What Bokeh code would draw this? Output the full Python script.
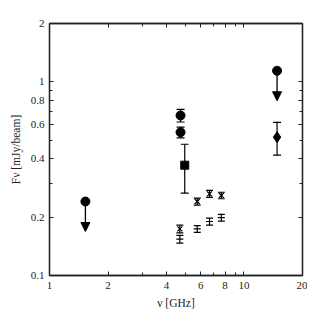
from bokeh.plotting import figure
from bokeh.models import (ColumnDataSource, Whisker, TeeHead, Arrow, NormalHead,
                          LogAxis, FixedTicker, CustomJSTickFormatter)
from bokeh.embed import file_html
from bokeh.resources import INLINE

# ---- data ----
# upper limits (circle + downward arrow)
lim_freq = [1.53, 14.8]
lim_flux = [0.241, 1.14]
lim_frac = 0.70  # arrow end as fraction of the limit

# filled circles with error bars
circ_freq = [4.72, 4.72]
circ_flux = [0.670, 0.549]
circ_err = [0.05, 0.035]

# square
sq_freq = [4.96]
sq_flux = [0.371]
sq_err = [0.105]

# diamond
dia_freq = [14.8]
dia_flux = [0.518]
dia_err = [0.10]

# x-marker series
xs_freq = [4.68, 5.75, 6.65, 7.65]
xs_flux = [0.174, 0.241, 0.264, 0.259]
xs_err = [0.008, 0.010, 0.011, 0.010]

# dash-marker series
ds_freq = [4.68, 5.75, 6.65, 7.65]
ds_flux = [0.154, 0.174, 0.190, 0.199]
ds_err = [0.007, 0.007, 0.008, 0.008]

x_major = [1, 2, 4, 6, 8, 10, 20]
x_minor = [3, 5, 7, 9]
y_major = [0.1, 0.2, 0.4, 0.6, 0.8, 1, 2]
y_minor = [0.3, 0.5, 0.7, 0.9]

FONT = "Liberation Serif"

p = figure(frame_width=253, frame_height=252, x_axis_type="log", y_axis_type="log",
           x_range=(1, 20), y_range=(0.1, 2), output_backend="svg", toolbar_location=None,
           min_border_left=49, min_border_top=23, min_border_right=5, min_border_bottom=22,
           background_fill_color="white", border_fill_color="white")
p.xgrid.visible = False
p.ygrid.visible = False
p.outline_line_color = "#222222"
p.outline_line_width = 1.3

fmt = CustomJSTickFormatter(code="return tick.toString();")
blank = CustomJSTickFormatter(code="return '';")

def style(ax, major, minor, shown):
    ax.ticker = FixedTicker(ticks=major, minor_ticks=minor)
    ax.major_tick_in = 4
    ax.major_tick_out = 0
    ax.minor_tick_in = 3
    ax.minor_tick_out = 0
    ax.axis_line_color = "#222222"
    ax.axis_line_width = 1.3
    ax.major_tick_line_color = "#222222"
    ax.minor_tick_line_color = "#222222"
    if shown:
        ax.formatter = fmt
        ax.major_label_text_font = FONT
        ax.major_label_text_font_size = "11px"
        ax.major_label_text_color = "#222222"
        ax.axis_label_text_font = FONT
        ax.axis_label_text_font_size = "11.5px"
        ax.axis_label_text_font_style = "normal"
        ax.axis_label_text_color = "#222222"
    else:
        ax.formatter = blank
        ax.major_label_text_font_size = "0px"
        ax.major_label_standoff = 0

style(p.xaxis[0], x_major, x_minor, True)
style(p.yaxis[0], y_major, y_minor, True)
p.xaxis[0].axis_label = "ν [GHz]"
p.yaxis[0].axis_label = "Fν [mJy/beam]"
p.xaxis[0].major_label_standoff = 6
p.yaxis[0].major_label_standoff = 5
p.xaxis[0].axis_label_standoff = 5
p.yaxis[0].axis_label_standoff = 6

top = LogAxis()
style(top, x_major, x_minor, False)
p.add_layout(top, "above")
right = LogAxis()
style(right, y_major, y_minor, False)
p.add_layout(right, "right")

def err_src(xv, yv, ev):
    return ColumnDataSource(dict(x=xv, y=yv,
                                 lo=[a - b for a, b in zip(yv, ev)],
                                 hi=[a + b for a, b in zip(yv, ev)]))

def whisk(src, cap):
    w = Whisker(base="x", lower="lo", upper="hi", dimension="height", source=src,
                line_color="black", line_width=1.2,
                upper_head=TeeHead(size=cap, line_color="black", line_width=1.2),
                lower_head=TeeHead(size=cap, line_color="black", line_width=1.2))
    p.add_layout(w)

# upper limits
lim_src = ColumnDataSource(dict(x=lim_freq, y=lim_flux,
                                yend=[v * lim_frac for v in lim_flux]))
p.add_layout(Arrow(x_start="x", y_start="y", x_end="x", y_end="yend", source=lim_src,
                   line_color="black", line_width=1.3,
                   end=NormalHead(size=9, fill_color="black", line_color="black")))
p.scatter("x", "y", source=lim_src, marker="circle", size=9, color="black")

# circles
s = err_src(circ_freq, circ_flux, circ_err)
whisk(s, 8)
p.scatter("x", "y", source=s, marker="circle", size=9, color="black")

# square
s = err_src(sq_freq, sq_flux, sq_err)
whisk(s, 8)
p.scatter("x", "y", source=s, marker="square", size=8, color="black")

# diamond
s = err_src(dia_freq, dia_flux, dia_err)
whisk(s, 8)
p.scatter("x", "y", source=s, marker="diamond", size=11, color="black")

# x series
s = err_src(xs_freq, xs_flux, xs_err)
whisk(s, 7)
p.scatter("x", "y", source=s, marker="x", size=7, line_color="black", line_width=1.2)

# dash series
s = err_src(ds_freq, ds_flux, ds_err)
whisk(s, 7)
p.scatter("x", "y", source=s, marker="dash", size=7, line_color="black", line_width=1.2)

open("out.html", "w").write(file_html(p, INLINE))
